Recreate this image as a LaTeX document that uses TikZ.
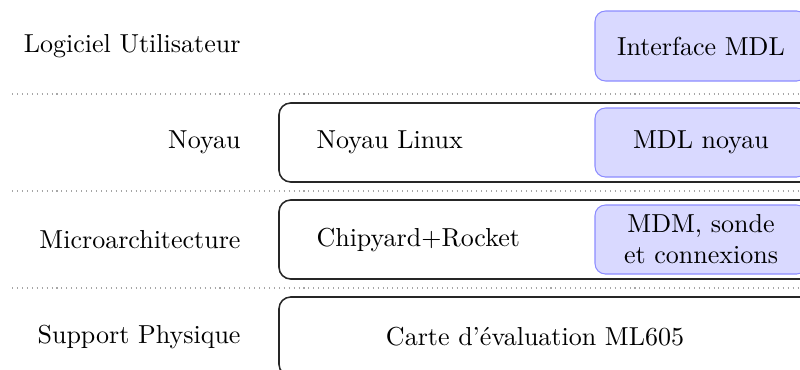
\documentclass[tikz,border=0pt]{standalone}
\usetikzlibrary{fit}
\begin{document}
\begin{tikzpicture}[x=0.3846pt,y=-0.3846pt,
  layerbox/.style={draw=black!85, semithick, rounded corners=4.5pt, inner sep=0pt},
  mdlbox/.style={draw=blue!45, fill=blue!15, rounded corners=4pt, inner sep=0pt},
  layerlabel/.style={anchor=east, inner sep=0pt},
  boxtext/.style={inner sep=0pt},
  sep/.style={draw=gray!70, dash pattern=on 0.4pt off 1.5pt}]
\useasboundingbox (0,0) rectangle (800,370);
\clip (0,0) rectangle (800,370);
% separators
\draw[sep] (12,94) -- (800,94);
\draw[sep] (12,191) -- (800,191);
\draw[sep] (12,288) -- (800,288);
% layer labels
\node[layerlabel] (lUser) at (241,46) {Logiciel Utilisateur};
\node[layerlabel] (lKernel) at (241,142.5) {Noyau};
\node[layerlabel] (lMicro) at (241,239.5) {Microarchitecture};
\node[layerlabel] (lHw) at (241,336.5) {Support Physique};
% user layer
\node[mdlbox, fit={(595,11) (807,81)}] (ifBox) {};
\node[boxtext] (ifText) at (701,46) {Interface MDL};
% kernel layer
\node[layerbox, fit={(279,103) (830,182)}] (kBox) {};
\node[boxtext, anchor=west] (kLinux) at (316,142.5) {Noyau Linux};
\node[mdlbox, fit={(595,108) (807,177)}] (kMdlBox) {};
\node[boxtext] (kMdl) at (701,142.5) {MDL noyau};
% micro layer
\node[layerbox, fit={(279,200) (830,279)}] (mBox) {};
\node[boxtext, anchor=west] (mChip) at (316,239.5) {Chipyard+Rocket};
\node[mdlbox, fit={(595,205) (807,274)}] (mMdmBox) {};
\node[boxtext, align=center] (mMdm) at (701,239.5) {MDM, sonde\\et connexions};
% hardware layer
\node[layerbox, fit={(279,297) (830,376)}] (hBox) {};
\node[boxtext] (hCard) at (535,336.5) {Carte d'évaluation ML605};
\end{tikzpicture}
\end{document}
